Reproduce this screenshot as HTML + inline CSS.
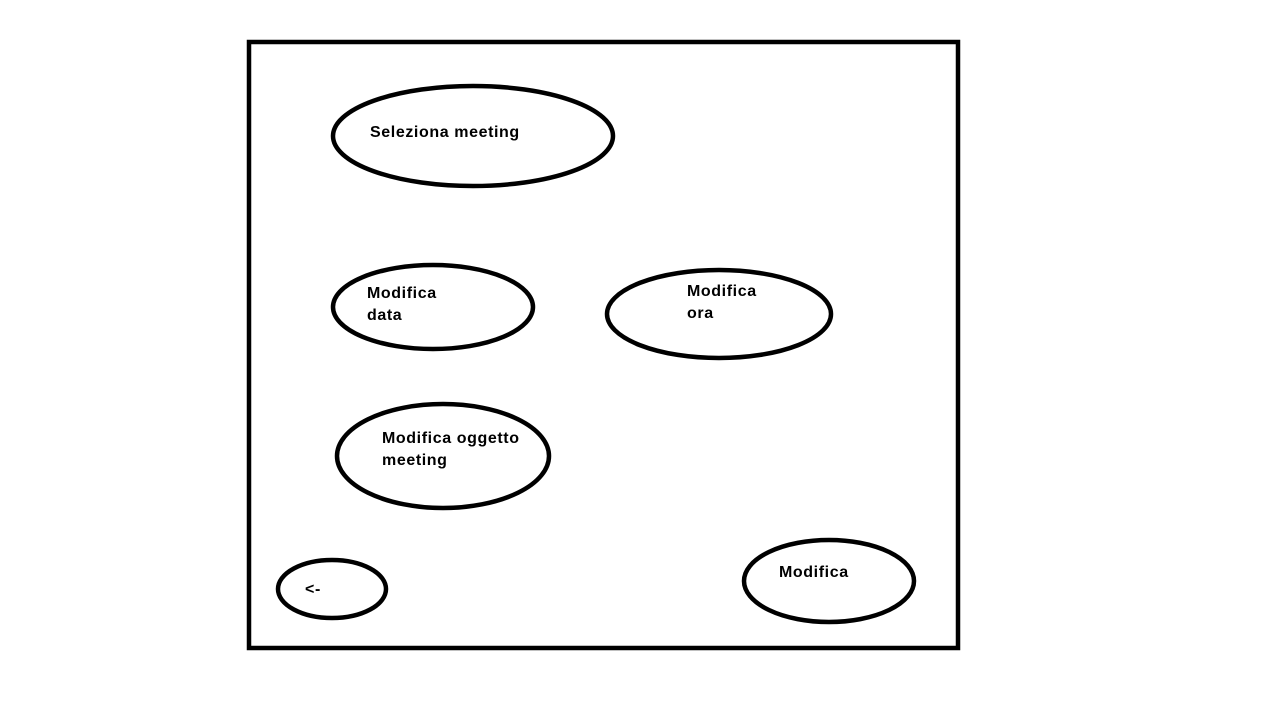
<!DOCTYPE html>
<html><head><meta charset="utf-8"><style>
html,body{margin:0;padding:0;background:#fff;}
svg{display:block;}
text{font-family:"Liberation Sans",Arial,sans-serif;font-weight:bold;font-size:16px;letter-spacing:0.6px;fill:#000;}
</style></head><body>
<svg width="1264" height="717" viewBox="0 0 1264 717" xmlns="http://www.w3.org/2000/svg">
<rect x="249" y="42" width="709" height="606" fill="none" stroke="#000" stroke-width="4.5"/>
<g fill="none" stroke="#000" stroke-width="4.5">
<ellipse cx="473" cy="136" rx="140" ry="50"/>
<ellipse cx="433" cy="307" rx="100" ry="42"/>
<ellipse cx="719" cy="314" rx="112" ry="44"/>
<ellipse cx="443" cy="456" rx="106" ry="52"/>
<ellipse cx="332" cy="589" rx="54" ry="29"/>
<ellipse cx="829" cy="581" rx="85" ry="41"/>
</g>
<text x="370" y="137">Seleziona meeting</text>
<text x="367" y="298">Modifica</text>
<text x="367" y="320">data</text>
<text x="687" y="296">Modifica</text>
<text x="687" y="318">ora</text>
<text x="382" y="443">Modifica oggetto</text>
<text x="382" y="465">meeting</text>
<text x="305" y="594">&lt;-</text>
<text x="779" y="577">Modifica</text>
</svg>
</body></html>
